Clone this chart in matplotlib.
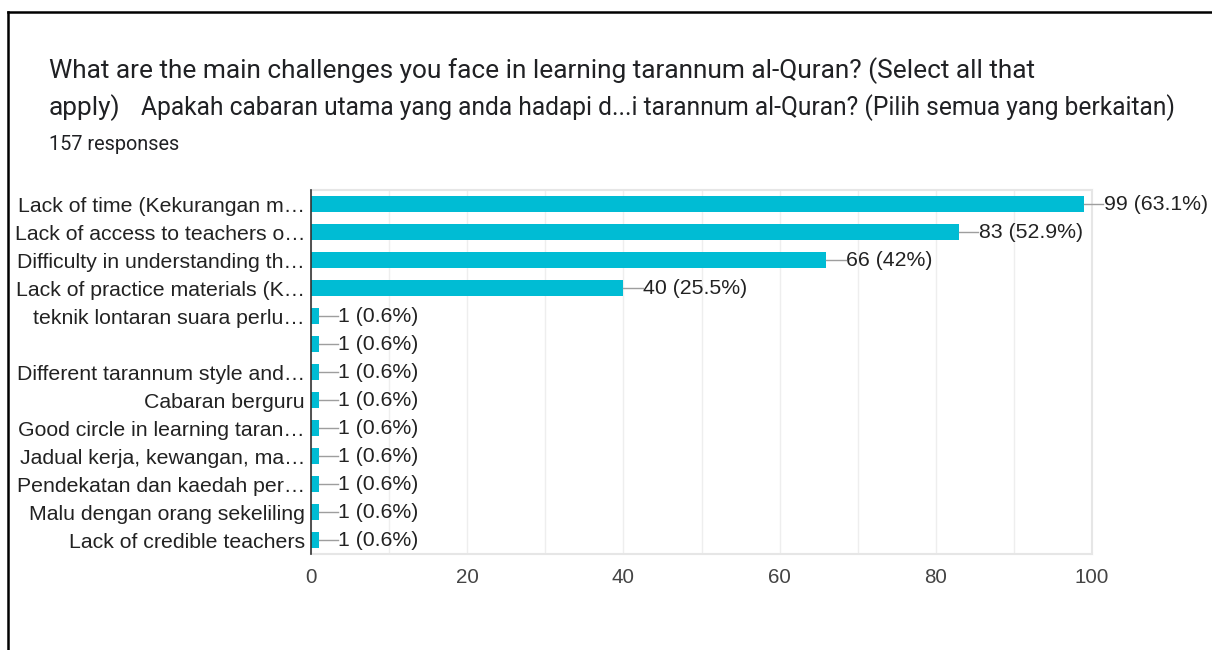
import matplotlib
matplotlib.use("Agg")
import matplotlib.pyplot as plt
from matplotlib.lines import Line2D

plt.rcParams['font.family'] = ['Roboto', 'DejaVu Sans']
ARIAL = ['Liberation Sans', 'DejaVu Sans']

labels = [
    "Lack of time (Kekurangan m\u2026",
    "Lack of access to teachers o\u2026",
    "Difficulty in understanding th\u2026",
    "Lack of practice materials (K\u2026",
    "teknik lontaran suara perlu\u2026",
    "",
    "Different tarannum style and\u2026",
    "Cabaran berguru",
    "Good circle in learning taran\u2026",
    "Jadual kerja, kewangan, ma\u2026",
    "Pendekatan dan kaedah per\u2026",
    "Malu dengan orang sekeliling",
    "Lack of credible teachers",
]
counts = [99, 83, 66, 40, 1, 1, 1, 1, 1, 1, 1, 1, 1]
pcts = ["63.1%", "52.9%", "42%", "25.5%"] + ["0.6%"] * 9
xticks = [0, 20, 40, 60, 80, 100]

BAR = "#00bcd4"
fig = plt.figure(figsize=(12.12, 6.5), dpi=100)
ax = fig.add_axes([311/1212, 1-554/650, (1092-311)/1212, 364/650])

ypos = list(range(len(labels)))
ax.barh(ypos, counts, height=0.6, color=BAR, zorder=3)
for y, c, p in zip(ypos, counts, pcts):
    ax.plot([c, c+2.45], [y, y], color="#9e9e9e", lw=1, clip_on=False, zorder=4)
    ax.text(c+2.5, y, f"{c} ({p})", va="center", ha="left", fontsize=15.3,
            family=ARIAL, color="#222222", clip_on=False)

ax.set_xlim(0, 100)
ax.set_ylim(len(labels)-0.5, -0.5)
ax.set_yticks(ypos)
ax.set_yticklabels(labels, fontsize=15.3, color="#222222", family=ARIAL)
ax.set_xticks(xticks)
ax.set_xticklabels([str(t) for t in xticks], fontsize=14.8, color="#444444", family=ARIAL)
ax.set_xticks(range(0, 101, 10), minor=True)
ax.tick_params(axis="x", length=0, which="both", pad=10)
ax.tick_params(axis="y", length=0, pad=4.3)
ax.grid(axis="x", which="both", color="#eeeeee", lw=1, zorder=0)
for s in ["top", "right", "bottom"]:
    ax.spines[s].set_color("#e6e6e6")
    ax.spines[s].set_linewidth(1.5)
ax.spines["left"].set_color("#333333")
ax.spines["left"].set_linewidth(1.2)
ax.spines["left"].set_zorder(5)

fig.text(49/1212, 1-78/650, "What are the main challenges you face in learning tarannum al-Quran? (Select all that",
         fontsize=18.9, color="#202124", va="baseline", ha="left")
fig.text(49/1212, 1-115/650, "apply)", fontsize=18.9, color="#202124", va="baseline", ha="left")
fig.text(141/1212, 1-115/650, "Apakah cabaran utama yang anda hadapi d...i tarannum al-Quran? (Pilih semua yang berkaitan)",
         fontsize=17.7, color="#202124", va="baseline", ha="left")
fig.text(49/1212, 1-150/650, "157 responses", fontsize=14.3, color="#202124", va="baseline", ha="left")

# frame lines of the screenshot
fig.add_artist(Line2D([8/1212, 1], [1-12/650, 1-12/650], color="black", lw=1.8, transform=fig.transFigure))
fig.add_artist(Line2D([8/1212, 8/1212], [0, 1-12/650], color="black", lw=1.8, transform=fig.transFigure))

fig.savefig("out.png", dpi=100)
